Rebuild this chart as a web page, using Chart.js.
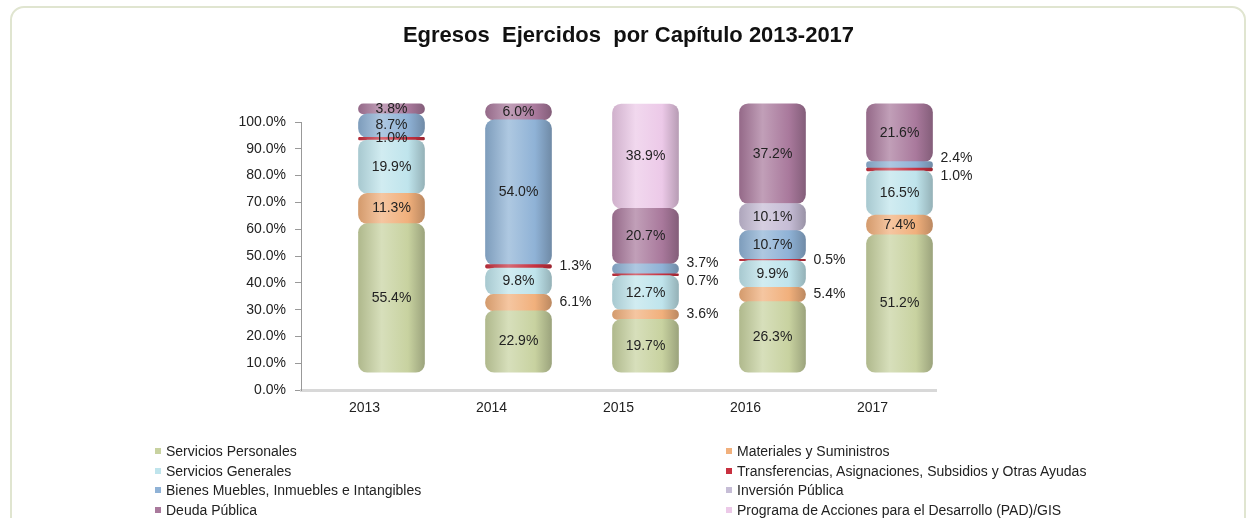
<!DOCTYPE html>
<html>
<head>
<meta charset="utf-8">
<script src="https://cdn.jsdelivr.net/npm/chart.js@4/dist/chart.umd.min.js"></script>
<style>
  body { margin: 0; background: #fff; }
  #wrap { position: relative; width: 1257px; height: 518px; overflow: hidden; }
  #frame {
    position: absolute; left: 10px; top: 6px; width: 1236px; height: 600px;
    border: 2px solid #e0e5d0; border-radius: 14px; box-sizing: border-box;
  }
  #chart { position: absolute; left: 0; top: 0; }
  #legend {
    position: absolute; left: 155px; top: 443px;
    display: grid; grid-template-columns: 571px auto; grid-auto-rows: 19.7px;
    font: 14px "Liberation Sans", Arial, sans-serif; color: #222;
  }
  #legend span.box { display: inline-block; width: 6px; height: 6px; margin-right: 5px; vertical-align: 2px; }
</style>
</head>
<body>
<div id="wrap">
  <div id="frame"></div>
  <canvas id="chart" width="1257" height="518"></canvas>
  <div id="legend"></div>
</div>
<script>
const years = ["2013", "2014", "2015", "2016", "2017"];
const seriesNames = [
    "Servicios Personales",
    "Materiales y Suministros",
    "Servicios Generales",
    "Transferencias, Asignaciones, Subsidios y Otras Ayudas",
    "Bienes Muebles, Inmuebles e Intangibles",
    "Inversión Pública",
    "Deuda Pública",
    "Programa de Acciones para el Desarrollo (PAD)/GIS"
];
const serviciosPersonales = [55.4, 22.9, 19.7, 26.3, 51.2];
const materiales = [11.3, 6.1, 3.6, 5.4, 7.4];
const serviciosGenerales = [19.9, 9.8, 12.7, 9.9, 16.5];
const transferencias = [1.0, 1.3, 0.7, 0.5, 1.0];
const bienesMuebles = [8.7, 54.0, 3.7, 10.7, 2.4];
const inversionPublica = [null, null, null, 10.1, null];
const deudaPublica = [3.8, 6.0, 20.7, 37.2, 21.6];
const programaPAD = [null, null, 38.9, null, null];
const seriesValues = [serviciosPersonales, materiales, serviciosGenerales, transferencias,
    bienesMuebles, inversionPublica, deudaPublica, programaPAD];
const seriesColors = ["#c8d2a0", "#f1b07c", "#bfe4ec", "#c8303f",
    "#8fb2d6", "#c6bdd6", "#a9799c", "#ecc9e8"];
const yTicks = [0, 10, 20, 30, 40, 50, 60, 70, 80, 90, 100];

const barWidth = 66;
const depthX = 27 / 127;   // 3D look: bars sit back and to the right of the axis
const depthY = 6.7;

function shade(hex, amt) {
    const n = parseInt(hex.slice(1), 16);
    let c = [(n >> 16) & 255, (n >> 8) & 255, n & 255];
    c = c.map(v => Math.round(amt >= 0 ? v + (255 - v) * amt : v * (1 + amt)));
    return "rgb(" + c.join(",") + ")";
}

function cylinder(ctx) {
    const base = seriesColors[ctx.datasetIndex];
    const chart = ctx.chart;
    if (ctx.type !== "data" || !chart.chartArea || !chart.scales.xb) return base;
    const cx = chart.scales.xb.getPixelForValue(ctx.dataIndex);
    const g = chart.ctx.createLinearGradient(cx - barWidth / 2, 0, cx + barWidth / 2, 0);
    g.addColorStop(0, shade(base, -0.12));
    g.addColorStop(0.35, shade(base, 0.28));
    g.addColorStop(0.75, base);
    g.addColorStop(1, shade(base, -0.22));
    return g;
}

const valueLabels = {
    id: "valueLabels",
    afterDatasetsDraw(chart) {
        const ctx = chart.ctx;
        ctx.save();
        ctx.font = "14px 'Liberation Sans', Arial, sans-serif";
        ctx.fillStyle = "#222";
        ctx.textBaseline = "middle";
        years.forEach((y, i) => {
            const outside = [];
            let top = -1;
            chart.data.datasets.forEach((ds, d) => { if (ds.data[i].y != null) top = d; });
            chart.data.datasets.forEach((ds, d) => {
                const v = ds.data[i].y;
                if (v == null) return;
                const el = chart.getDatasetMeta(d).data[i];
                const cy = (el.y + el.base) / 2;
                const text = v.toFixed(1) + "%";
                if (v < 7 && d !== top && i !== 0) {
                    outside.push({ text, x: el.x + barWidth / 2 + 8, y: cy });
                } else {
                    ctx.textAlign = "center";
                    ctx.fillText(text, el.x, cy);
                }
            });
            outside.sort((a, b) => a.y - b.y);
            for (let k = 1; k < outside.length; k++) {
                const gap = outside[k].y - outside[k - 1].y;
                if (gap < 18) {
                    const shift = (18 - gap) / 2;
                    outside[k - 1].y -= shift;
                    outside[k].y += shift;
                }
            }
            ctx.textAlign = "left";
            outside.forEach(o => ctx.fillText(o.text, o.x, o.y));
        });
        ctx.restore();
    }
};

const datasets = seriesNames.map((name, s) => ({
    label: name,
    data: seriesValues[s].map((v, i) => ({ x: i, y: v })),
    xAxisID: "xb",
    yAxisID: "yb",
    backgroundColor: cylinder,
    borderWidth: 0,
    borderRadius: { topLeft: 9, topRight: 9, bottomLeft: 9, bottomRight: 9 },
    borderSkipped: false,
    barThickness: barWidth,
    clip: false
}));

const tickFont = { family: "'Liberation Sans', Arial, sans-serif", size: 14 };

const chart = new Chart(document.getElementById("chart"), {
    type: "bar",
    data: { labels: years, datasets: datasets },
    options: {
        responsive: false,
        animation: false,
        layout: { padding: { left: 0, right: 0, top: 0, bottom: 91 } },
        plugins: {
            legend: { display: false },
            tooltip: { enabled: false },
            title: {
                display: true,
                text: "Egresos  Ejercidos  por Capítulo 2013-2017",
                color: "#111",
                font: { family: "'Liberation Sans', Arial, sans-serif", size: 22, weight: "bold" },
                padding: { top: 23, bottom: 72.6 }
            }
        },
        scales: {
            x: {
                type: "category",
                offset: true,
                grid: { display: false, drawTicks: false },
                border: { display: true, color: "#d8d8d8", width: 3 },
                ticks: { color: "#222", font: tickFont, padding: 10 }
            },
            y: {
                type: "linear",
                min: 0,
                max: 100,
                afterFit: scale => { scale.width = 301; },
                afterBuildTicks: scale => { scale.ticks = yTicks.map(v => ({ value: v })); },
                grid: { drawOnChartArea: false, tickLength: 6, color: "#999" },
                border: { display: true, color: "#999" },
                ticks: { color: "#222", font: tickFont, padding: 9, callback: v => v.toFixed(1) + "%" }
            },
            rightSpace: {
                type: "linear",
                axis: "y",
                position: "right",
                afterFit: scale => { scale.width = 321; },
                grid: { display: false },
                border: { display: false },
                ticks: { display: false }
            },
            xb: {
                type: "linear",
                axis: "x",
                position: "bottom",
                display: false,
                offset: false,
                grid: { offset: false },
                stacked: true,
                min: -0.5 - depthX,
                max: years.length - 0.5 - depthX
            },
            yb: {
                type: "linear",
                axis: "y",
                position: "left",
                display: false,
                stacked: true,
                min: -depthY,
                max: 100 - depthY
            }
        }
    },
    plugins: [valueLabels]
});

const legend = document.getElementById("legend");
chart.data.datasets.forEach((ds, s) => {
    const item = document.createElement("div");
    item.innerHTML = '<span class="box" style="background:' + seriesColors[s] + '"></span>' + ds.label;
    legend.appendChild(item);
});
</script>
</body>
</html>
